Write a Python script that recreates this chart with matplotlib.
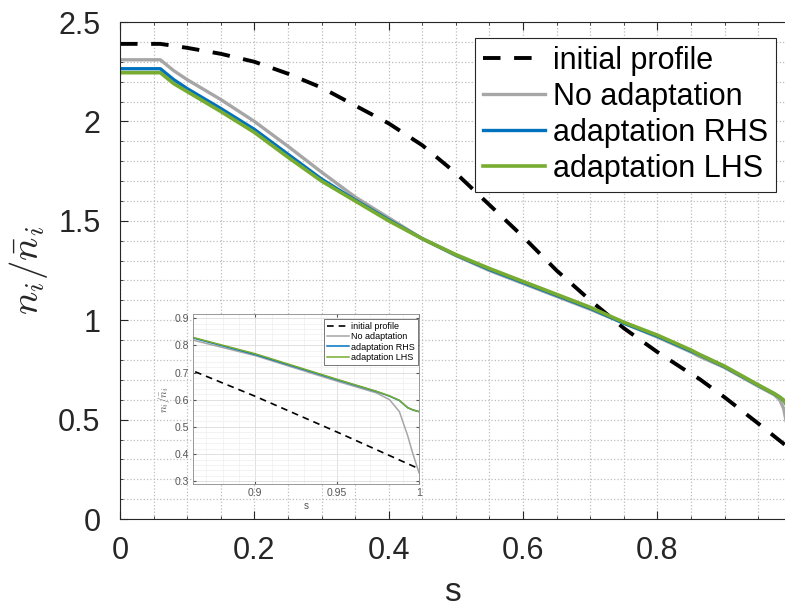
import matplotlib.pyplot as plt
from matplotlib.ticker import MultipleLocator
import numpy as np

plt.rcParams['font.family'] = ['Liberation Sans', 'DejaVu Sans']
plt.rcParams['mathtext.fontset'] = 'cm'

# initial profile (dashed)
s_init = [0, 0.06, 0.1, 0.15, 0.2, 0.25, 0.3, 0.35, 0.4, 0.45, 0.5, 0.55, 0.6,
          0.65, 0.7, 0.75, 0.8, 0.85, 0.862, 0.9, 0.95, 1.0]
n_init = [2.39, 2.39, 2.37, 2.34, 2.30, 2.24, 2.17, 2.08, 1.99, 1.88, 1.74, 1.58, 1.42,
          1.25, 1.10, 0.96, 0.84, 0.73, 0.706, 0.6125, 0.481, 0.346]

# adapted profiles
s_prof = [0, 0.06, 0.08, 0.1, 0.125, 0.15, 0.2, 0.25, 0.3, 0.35, 0.4, 0.45, 0.5, 0.55, 0.6, 0.65,
          0.7, 0.75, 0.8, 0.85, 0.862, 0.9, 0.95, 0.974, 0.982, 0.988, 0.993, 0.996, 1.0]
n_noadapt = [2.31, 2.31, 2.255, 2.21, 2.16, 2.11, 2.00, 1.875, 1.745, 1.62, 1.515, 1.41, 1.325, 1.25,
             1.185, 1.12, 1.055, 0.985, 0.915, 0.84, 0.819, 0.762, 0.668, 0.625, 0.60, 0.556,
             0.469, 0.406, 0.331]
n_rhs = [2.265, 2.265, 2.21, 2.165, 2.115, 2.065, 1.96, 1.835, 1.71, 1.605, 1.505, 1.41, 1.328, 1.255,
         1.19, 1.125, 1.06, 0.985, 0.92, 0.845, 0.827, 0.766, 0.673, 0.630, 0.613, 0.597,
         0.571, 0.563, 0.556]
n_lhs = [2.245, 2.245, 2.19, 2.15, 2.10, 2.05, 1.945, 1.82, 1.70, 1.60, 1.50, 1.41, 1.33, 1.26,
         1.195, 1.13, 1.065, 0.99, 0.925, 0.85, 0.829, 0.769, 0.675, 0.631, 0.614, 0.598,
         0.571, 0.563, 0.556]

labels = ['initial profile', 'No adaptation', 'adaptation RHS', 'adaptation LHS']
c_gray = '#a6a6a6'
c_blue = '#0072bd'
c_green = '#77ac30'
axcol = '#262626'

fmt = plt.FuncFormatter(lambda v, p: '%g' % round(v, 2))

fig = plt.figure(figsize=(7.85, 6.13), dpi=100)
ax = fig.add_axes([0.1529, 0.1533, 0.8471, 0.8108])

ax.plot(s_init, n_init, color='k', lw=2.8, dashes=(4.5, 3.5), label=labels[0])
ax.plot(s_prof, n_noadapt, color=c_gray, lw=2.4, label=labels[1])
ax.plot(s_prof, n_rhs, color=c_blue, lw=2.4, label=labels[2])
ax.plot(s_prof, n_lhs, color=c_green, lw=2.6, label=labels[3])

ax.set_xlim(0, 0.99)
ax.set_ylim(0, 2.5)
ax.xaxis.set_major_locator(MultipleLocator(0.2))
ax.xaxis.set_minor_locator(MultipleLocator(0.05))
ax.yaxis.set_major_locator(MultipleLocator(0.5))
ax.yaxis.set_minor_locator(MultipleLocator(0.1))
ax.xaxis.set_major_formatter(fmt)
ax.yaxis.set_major_formatter(fmt)
ax.grid(True, which='both', ls=':', color='#bdbdbd', lw=0.9)
ax.tick_params(which='both', direction='in', top=True, right=False, colors=axcol,
               labelsize=22, pad=12)
ax.tick_params(axis='y', pad=14)
ax.tick_params(which='major', length=6)
ax.tick_params(which='minor', length=2.5)
for sp in ['top', 'bottom', 'left']:
    ax.spines[sp].set_color(axcol)
    ax.spines[sp].set_linewidth(0.8)
ax.spines['right'].set_visible(False)
ax.set_xlabel('s', fontsize=24, color=axcol, labelpad=8)
ax.set_ylabel(r'$n_i/\bar{n}_i$', fontsize=28, color=axcol, labelpad=6)

leg = ax.legend(loc='upper right', bbox_to_anchor=(0.986, 0.968), fontsize=22,
                frameon=True, fancybox=False, edgecolor=axcol, framealpha=1,
                handlelength=2.05, handletextpad=0.25, labelspacing=0.2,
                borderpad=0.25, borderaxespad=0)
leg.get_frame().set_linewidth(0.8)

# inset zoom on the edge
axi = fig.add_axes([0.2459, 0.2104, 0.2879, 0.2773])
axi.plot(s_init, n_init, color='k', lw=1.2, dashes=(4, 3), label=labels[0])
axi.plot(s_prof, n_noadapt, color=c_gray, lw=1.1, label=labels[1])
axi.plot(s_prof, n_rhs, color=c_blue, lw=1.1, label=labels[2])
axi.plot(s_prof, n_lhs, color=c_green, lw=1.1, label=labels[3])
axi.set_xlim(0.862, 1.0)
axi.set_ylim(0.29, 0.915)
axi.xaxis.set_major_locator(MultipleLocator(0.05))
axi.xaxis.set_minor_locator(MultipleLocator(0.01))
axi.yaxis.set_major_locator(MultipleLocator(0.1))
axi.yaxis.set_minor_locator(MultipleLocator(0.02))
axi.xaxis.set_major_formatter(fmt)
axi.yaxis.set_major_formatter(fmt)
axi.grid(True, which='major', color='#dcdcdc', lw=0.6)
axi.grid(True, which='minor', color='#efefef', lw=0.5)
axi.tick_params(which='both', direction='in', top=True, right=True, colors='#555555',
                labelsize=7.5, pad=3)
axi.tick_params(which='major', length=2.5)
axi.tick_params(which='minor', length=0)
for sp in axi.spines.values():
    sp.set_color('#888888')
    sp.set_linewidth(0.6)
axi.set_xlabel('s', fontsize=7, color='#555555', labelpad=2)
axi.set_ylabel(r'$n_i/\bar{n}_i$', fontsize=8, color='#555555', labelpad=2)
legi = axi.legend(loc='upper right', bbox_to_anchor=(0.995, 0.97), fontsize=6.5,
                  frameon=True, fancybox=False, edgecolor='#444444', framealpha=1,
                  handlelength=2.4, handletextpad=0.3, labelspacing=0.15,
                  borderpad=0.3, borderaxespad=0)
legi.get_frame().set_linewidth(0.5)

plt.savefig('out.png', dpi=100)
